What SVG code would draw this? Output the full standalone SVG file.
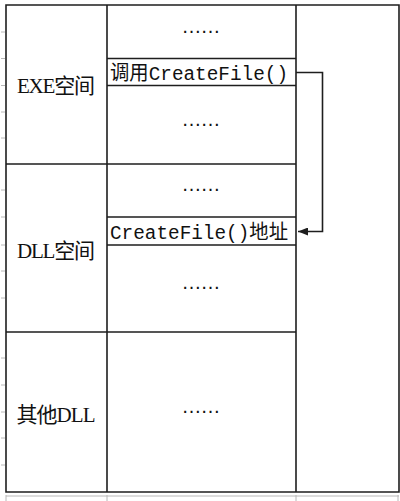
<svg xmlns="http://www.w3.org/2000/svg" width="400" height="501" viewBox="0 0 400 501">
<defs>
<style>
.ln{stroke:#1e1e1e;stroke-width:1.6;fill:none}
.tk{stroke:#b8b8b8;stroke-width:1;fill:none}
.lbl{font-family:"Liberation Serif","Noto Sans CJK SC",serif;font-size:21px;fill:#111}
.cell{font-family:"Liberation Mono","Noto Sans CJK SC",monospace;font-size:20px;fill:#111}
.dots{font-family:"Liberation Sans",sans-serif;font-size:20px;fill:#111;text-anchor:middle}
</style>
<marker id="ah" viewBox="0 0 10 8" refX="10" refY="4" markerWidth="10" markerHeight="8" markerUnits="userSpaceOnUse" orient="auto">
<path d="M0,0 L10,4 L0,8 z" fill="#1e1e1e"/>
</marker>
</defs>
<rect width="400" height="501" fill="#fff"/>
<g id="grid-ticks">
<path class="tk" d="M1,32H5M1,58.5H5M1,85.5H5M1,112H5M1,138H5M1,190H5M1,217H5M1,245H5M1,271H5M1,298H5M1,358H5M1,385H5M1,412H5M1,438H5M1,465H5M6,495V501M107,495V501M296,495V501M398,495V501"/>
<path class="tk" d="M6,496H399"/>
</g>
<g id="frame">
<path class="ln" d="M6,5H399V492H6Z"/>
<path class="ln" d="M107,5V492M296,5V492"/>
</g>
<g id="exe">
<path class="ln" d="M6,164H296M107,58.5H296M107,85.5H296"/>
<text class="lbl" x="56" y="93" text-anchor="middle" textLength="78">EXE空间</text>
<text class="dots" x="201" y="33" textLength="39" lengthAdjust="spacing">……</text>
<text class="cell" x="110" y="80" textLength="178" lengthAdjust="spacingAndGlyphs">调用CreateFile()</text>
<text class="dots" x="201" y="126" textLength="39" lengthAdjust="spacing">……</text>
</g>
<g id="dll">
<path class="ln" d="M6,332H296M107,217H296M107,245H296"/>
<text class="lbl" x="56" y="258" text-anchor="middle" textLength="78">DLL空间</text>
<text class="dots" x="201" y="191" textLength="39" lengthAdjust="spacing">……</text>
<text class="cell" x="110" y="239" textLength="178" lengthAdjust="spacingAndGlyphs">CreateFile()地址</text>
<text class="dots" x="201" y="289" textLength="39" lengthAdjust="spacing">……</text>
</g>
<g id="other">
<text class="lbl" x="56" y="422" text-anchor="middle" textLength="79">其他DLL</text>
<text class="dots" x="201" y="413" textLength="39" lengthAdjust="spacing">……</text>
</g>
<g id="connectors">
<path class="ln" d="M296,72.5H322.5V231.5H298" marker-end="url(#ah)"/>
</g>
</svg>
